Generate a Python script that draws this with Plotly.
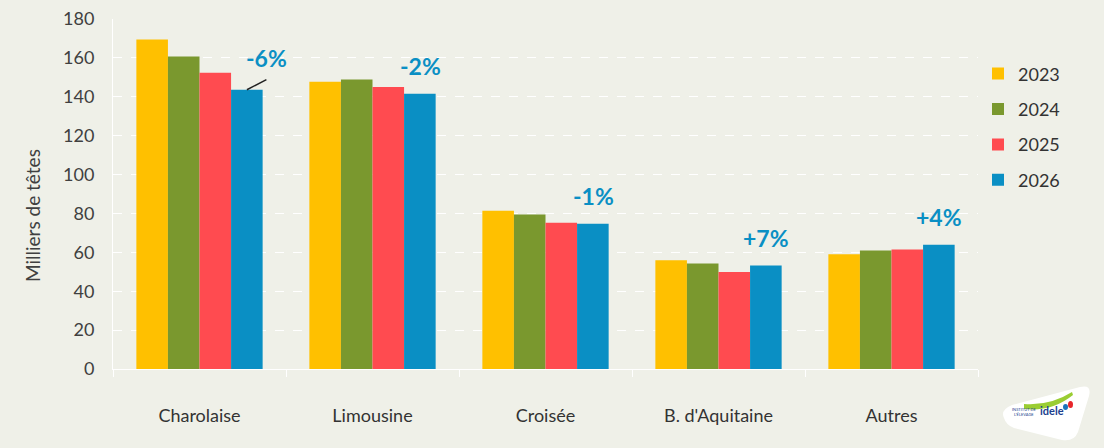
import plotly.graph_objects as go

categories = ["Charolaise", "Limousine", "Croisée", "B. d'Aquitaine", "Autres"]
years = ["2023", "2024", "2025", "2026"]
v2023 = [169.5, 147.7, 81.4, 55.9, 59.0]
v2024 = [160.7, 148.9, 79.5, 54.2, 60.9]
v2025 = [152.3, 145.0, 75.2, 49.9, 61.4]
v2026 = [143.6, 141.5, 74.7, 53.2, 63.9]
changes = ["-6%", "-2%", "-1%", "+7%", "+4%"]
y_ticks = [0, 20, 40, 60, 80, 100, 120, 140, 160, 180]

colors = ["#FFC000", "#7A982E", "#FF4B50", "#0A8FC4"]
series = [v2023, v2024, v2025, v2026]
bg = "#EFF0E8"
FONT = "Lato"

fig = go.Figure()
for name, vals, c in zip(years, series, colors):
    fig.add_trace(go.Bar(name=name, x=categories, y=vals, legendgroup=name,
                         marker=dict(color=c, line=dict(width=0))))

# change labels above 2026 bars
for i, (cat, val, txt) in enumerate(zip(categories, v2026, changes)):
    if i == 0:
        fig.add_annotation(x=i + 0.274, y=val, xref="x", yref="y", text="",
                           showarrow=True, arrowhead=0, arrowwidth=1.5, arrowcolor="#222222",
                           ax=21, ay=-11, standoff=0, startstandoff=0)
        fig.add_annotation(x=i + 0.39, y=val + 8, xref="x", yref="y", text=f"<b>{txt}</b>",
                           showarrow=False, yanchor="bottom", xanchor="center",
                           font=dict(size=23, color="#0A8FC4", family=FONT))
    else:
        fig.add_annotation(x=i + 0.275, y=val + 6, xref="x", yref="y", text=f"<b>{txt}</b>",
                           showarrow=False, yanchor="bottom", xanchor="center",
                           font=dict(size=23, color="#0A8FC4", family=FONT))

# logo approximation (paper coords: x=(px-113)/865, y=(369-py)/350)
def px(x):
    return (x - 113) / 865

def py(y):
    return (369 - y) / 350

# y axis title (placed as in the reference, slightly below plot centre)
fig.add_annotation(xref="paper", yref="paper", x=px(32), y=py(216), text="Milliers de têtes",
                   textangle=-90, showarrow=False, xanchor="center", yanchor="middle",
                   font=dict(size=19, color="#404040", family=FONT))

logo = (f"M {px(1004)} {py(418)} Q {px(1000)} {py(410)}, {px(1012)} {py(405)} "
        f"L {px(1080)} {py(387)} Q {px(1092)} {py(384)}, {px(1089)} {py(396)} "
        f"L {px(1078)} {py(432)} Q {px(1074)} {py(442)}, {px(1062)} {py(440)} "
        f"L {px(1014)} {py(428)} Q {px(1006)} {py(425)}, {px(1004)} {py(418)} Z")
fig.add_shape(type="path", xref="paper", yref="paper", path=logo,
              fillcolor="white", line=dict(width=0), layer="above")
swoosh = (f"M {px(1024)} {py(404)} Q {px(1050)} {py(406)}, {px(1072)} {py(392)} "
          f"L {px(1073)} {py(395)} Q {px(1052)} {py(412)}, {px(1024)} {py(409)} Z")
fig.add_shape(type="path", xref="paper", yref="paper", path=swoosh,
              fillcolor="#9ACD32", line=dict(width=0), layer="above")
fig.add_shape(type="circle", xref="paper", yref="paper", x0=px(1063), x1=px(1068), y0=py(410), y1=py(404),
              fillcolor="#1B75BB", line=dict(width=0), layer="above")
fig.add_shape(type="circle", xref="paper", yref="paper", x0=px(1068), x1=px(1073), y0=py(408), y1=py(401),
              fillcolor="#E8262B", line=dict(width=0), layer="above")
fig.add_annotation(xref="paper", yref="paper", x=px(1066), y=py(419), text="<b>idele</b>", showarrow=False,
                   font=dict(size=11, color="#1B3F8F", family=FONT))
fig.add_annotation(xref="paper", yref="paper", x=px(1038), y=py(419), text="INSTITUT DE<br>L'ÉLEVAGE",
                   showarrow=False, font=dict(size=4, color="#1B3F8F", family=FONT))

fig.update_layout(
    width=1104, height=448,
    paper_bgcolor=bg, plot_bgcolor=bg,
    margin=dict(l=113, r=126, t=19, b=79, autoexpand=False),
    barmode="group", bargap=0.27, bargroupgap=0,
    font=dict(family=FONT, color="#404040"),
    legend=dict(x=1.0, y=0.896, xanchor="left", yanchor="top", bgcolor="rgba(0,0,0,0)",
                font=dict(size=18, color="#333333"), itemwidth=30, tracegroupgap=9),
    showlegend=True,
)
fig.update_xaxes(showline=True, linecolor="white", linewidth=1, ticks="outside", tickson="boundaries",
                 tickcolor="white", ticklen=7, tickfont=dict(size=18, color="#333333"),
                 ticklabelstandoff=30, showgrid=False, automargin=False)
fig.update_yaxes(range=[0, 180], tickvals=y_ticks, showgrid=True, gridcolor="white", griddash="dash",
                 gridwidth=1, showline=True, linecolor="white", linewidth=1, zeroline=False,
                 tickfont=dict(size=18, color="#404040"), ticklabelstandoff=14, automargin=False)

fig.write_html("out.html", config={"displayModeBar": False},
               post_script="document.body.style.margin='0';document.body.style.overflow='hidden';")
